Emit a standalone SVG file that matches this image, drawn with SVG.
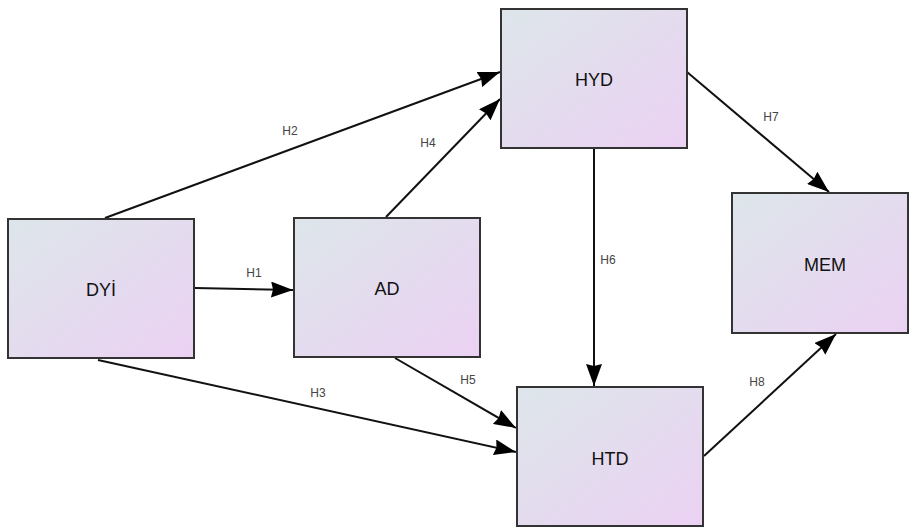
<svg xmlns="http://www.w3.org/2000/svg" width="909" height="530" viewBox="0 0 909 530">
<defs>
<linearGradient id="g" x1="0" y1="0" x2="1" y2="1">
<stop offset="0" stop-color="#dde6ea"/>
<stop offset="1" stop-color="#ebd1f3"/>
</linearGradient>
<marker id="a" viewBox="0 0 22 16" refX="22" refY="8" markerWidth="22" markerHeight="16" markerUnits="userSpaceOnUse" orient="auto">
<path d="M0,0 L22,8 L0,16 L2,8 Z" fill="#000"/>
</marker>
<style>
.n rect{fill:url(#g);stroke:#333;stroke-width:2}
.n text{font-family:"Liberation Sans",Arial,sans-serif;font-size:18px;fill:#111;text-anchor:middle;dominant-baseline:central}
.c line{stroke:#111;stroke-width:2;marker-end:url(#a)}
.c text{font-family:"Liberation Sans",Arial,sans-serif;font-size:12px;fill:#444;text-anchor:middle}
</style>
</defs>
<rect width="909" height="530" fill="#fff"/>
<g id="connectors" class="c">
<line x1="195" y1="288" x2="293" y2="290"/>
<line x1="105" y1="218" x2="500" y2="72"/>
<line x1="98" y1="360" x2="516" y2="452"/>
<line x1="386" y1="217" x2="500" y2="99"/>
<line x1="395" y1="358" x2="516" y2="428"/>
<line x1="594" y1="149" x2="594" y2="386"/>
<line x1="687" y1="72" x2="829" y2="192"/>
<line x1="704" y1="456" x2="836" y2="334"/>
<text x="254" y="277">H1</text>
<text x="290" y="135">H2</text>
<text x="318" y="397">H3</text>
<text x="428" y="147">H4</text>
<text x="468" y="384">H5</text>
<text x="608" y="264">H6</text>
<text x="771" y="121">H7</text>
<text x="757" y="386">H8</text>
</g>
<g id="DYI" class="n"><rect x="8" y="219" width="186" height="139"/><text x="101" y="290">DYİ</text></g>
<g id="AD" class="n"><rect x="294" y="218" width="186" height="139"/><text x="387" y="289">AD</text></g>
<g id="HYD" class="n"><rect x="501" y="9" width="186" height="139"/><text x="594" y="80">HYD</text></g>
<g id="MEM" class="n"><rect x="732" y="193" width="176" height="140"/><text x="825" y="265">MEM</text></g>
<g id="HTD" class="n"><rect x="517" y="387" width="186" height="139"/><text x="610" y="459">HTD</text></g>
</svg>
